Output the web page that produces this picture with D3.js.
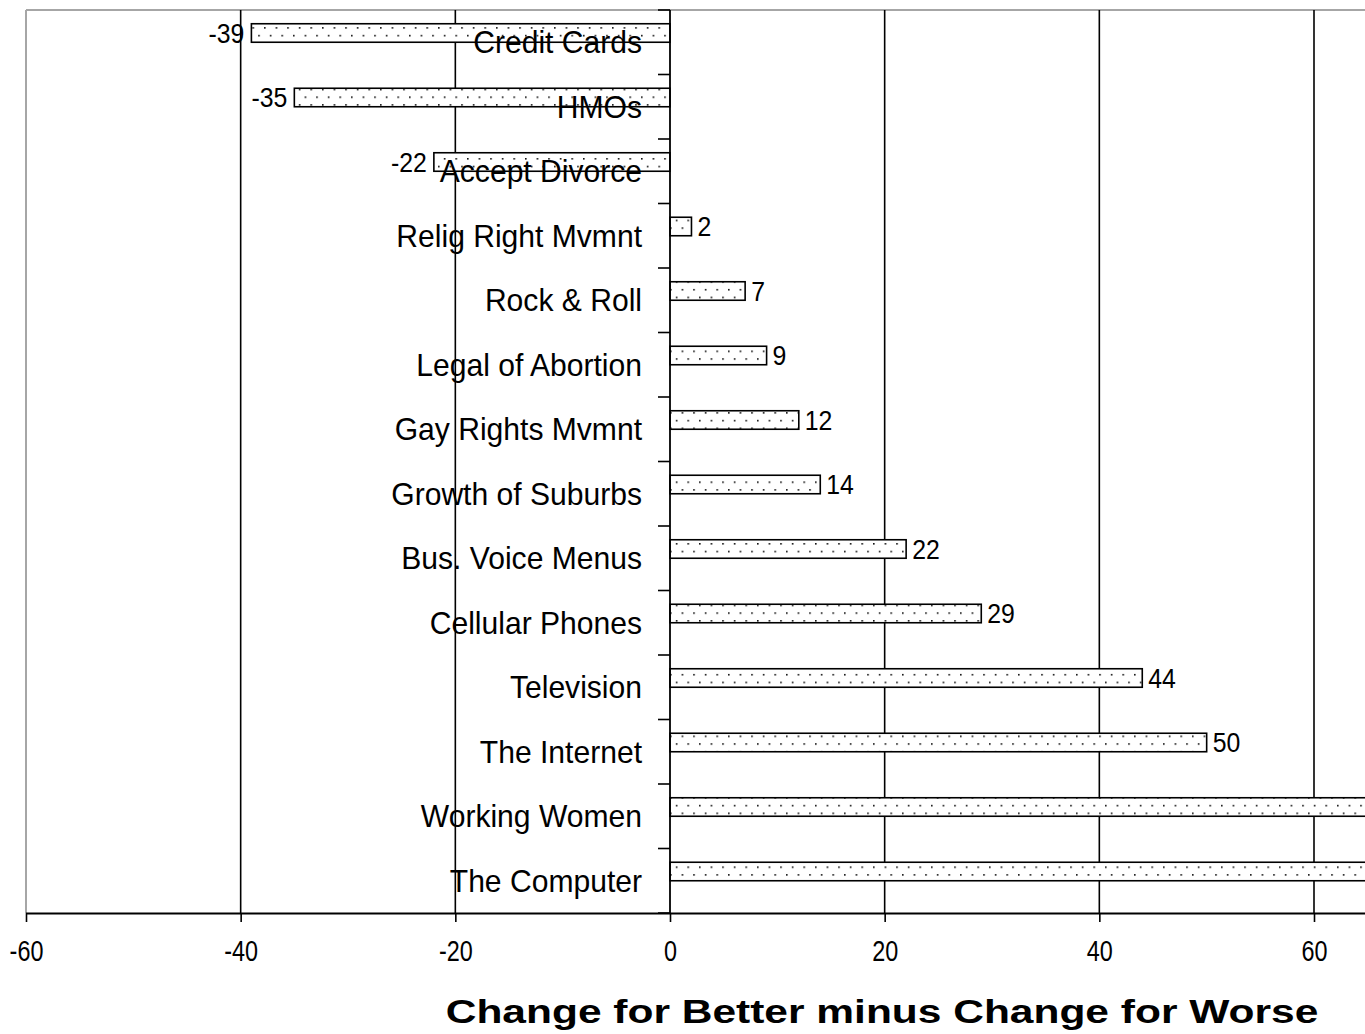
<!DOCTYPE html>
<html>
<head>
<meta charset="utf-8">
<script src="https://cdn.jsdelivr.net/npm/d3@7"></script>
<style>
  html, body { margin: 0; padding: 0; background: #fff; }
  svg { display: block; }
  text { font-family: "Liberation Sans", Arial, sans-serif; fill: #000; }
</style>
</head>
<body>
<svg id="chart" width="1365" height="1034"></svg>
<script>
const categories = ["Credit Cards", "HMOs", "Accept Divorce", "Relig Right Mvmnt", "Rock & Roll",
  "Legal of Abortion", "Gay Rights Mvmnt", "Growth of Suburbs", "Bus. Voice Menus",
  "Cellular Phones", "Television", "The Internet", "Working Women", "The Computer"];
const values = [-39, -35, -22, 2, 7, 9, 12, 14, 22, 29, 44, 50, 68, 73];
const xTicks = [-60, -40, -20, 0, 20, 40, 60];
const axisTitle = "Change for Better minus Change for Worse";

const W = 1365, H = 1034;
const plotTop = 10, plotBottom = 913;
const svg = d3.select("#chart");

const x = d3.scaleLinear().domain([-60, 60]).range([26, 1314]);
const y = d3.scaleBand().domain(categories).range([plotTop, plotBottom]).padding(0);
const barH = 18.5;

// pattern
const defs = svg.append("defs");
const pat = defs.append("pattern").attr("id", "dots").attr("patternUnits", "userSpaceOnUse")
  .attr("width", 11.6).attr("height", 15.4).attr("x", 3).attr("y", 4);
pat.append("rect").attr("width", 11.6).attr("height", 15.4).attr("fill", "#fff");
pat.append("rect").attr("x", 0).attr("y", 0).attr("width", 1.6).attr("height", 1.6).attr("fill", "#111");
pat.append("rect").attr("x", 5.8).attr("y", 7.7).attr("width", 1.6).attr("height", 1.6).attr("fill", "#111");

// frame (gray) top and left
svg.append("line").attr("x1", x(-60)).attr("x2", W).attr("y1", plotTop).attr("y2", plotTop)
  .attr("stroke", "#a6a6a6").attr("stroke-width", 2);
svg.append("line").attr("x1", x(-60)).attr("x2", x(-60)).attr("y1", plotTop).attr("y2", plotBottom)
  .attr("stroke", "#a6a6a6").attr("stroke-width", 2);

// gridlines
svg.append("g").selectAll("line").data(xTicks.filter(d => d !== -60 && d !== 0)).join("line")
  .attr("x1", d => x(d)).attr("x2", d => x(d)).attr("y1", plotTop).attr("y2", plotBottom)
  .attr("stroke", "#000").attr("stroke-width", 1.6);

// x axis
const xAxis = svg.append("g").attr("transform", `translate(0,${plotBottom})`)
  .call(d3.axisBottom(x).tickValues(xTicks).tickSize(9).tickSizeOuter(0).tickFormat(d => String(d)));
xAxis.select(".domain").attr("d", `M${x(-60)},0.5H${W}`).attr("stroke", "#000").attr("stroke-width", 1.8);
xAxis.selectAll(".tick line").attr("stroke", "#000").attr("stroke-width", 1.6);
xAxis.selectAll(".tick text").attr("font-size", 30).attr("y", 27).attr("dy", "0.71em")
  .attr("font-family", "'Liberation Sans', Arial, sans-serif").attr("fill", "#000")
  .attr("transform", "scale(0.78,1)");

// bars
svg.append("g").selectAll("rect").data(categories).join("rect")
  .attr("x", (d, i) => x(Math.min(0, values[i])))
  .attr("width", (d, i) => Math.abs(x(values[i]) - x(0)))
  .attr("y", d => y(d) + y.bandwidth() / 2 - barH)
  .attr("height", barH)
  .attr("fill", "url(#dots)").attr("stroke", "#000").attr("stroke-width", 1.6);

// zero axis with category ticks
svg.append("line").attr("x1", x(0)).attr("x2", x(0)).attr("y1", plotTop).attr("y2", plotBottom)
  .attr("stroke", "#000").attr("stroke-width", 1.8);
const bounds = categories.map(c => y(c)).concat([plotBottom]);
svg.append("g").selectAll("line").data(bounds).join("line")
  .attr("x1", x(0) - 12).attr("x2", x(0)).attr("y1", d => d).attr("y2", d => d)
  .attr("stroke", "#000").attr("stroke-width", 1.6);

// category labels
svg.append("g").selectAll("text").data(categories).join("text")
  .attr("text-anchor", "end").attr("font-size", 32)
  .attr("transform", d => `translate(${x(0) - 28},${y(d) + y.bandwidth() / 2 + 11}) scale(0.94,1)`)
  .text(d => d);

// value labels (those whose bar runs past the chart edge are clipped away, as in the original)
const labelData = categories.map((c, i) => ({ c, v: values[i] }))
  .filter(d => x(d.v) + 6 < W - 30);
svg.append("g").selectAll("text").data(labelData).join("text")
  .attr("font-size", 27)
  .attr("text-anchor", d => d.v < 0 ? "end" : "start")
  .attr("transform", d => {
    const xv = d.v < 0 ? x(d.v) - 7 : x(d.v) + 6;
    return `translate(${xv},${y(d.c) + y.bandwidth() / 2 - barH / 2 + 9.5}) scale(0.92,1)`;
  })
  .text(d => String(d.v));

// axis title
svg.append("text").attr("text-anchor", "middle").attr("font-size", 34).attr("font-weight", "bold")
  .attr("transform", `translate(882,1023) scale(1.25,1)`)
  .text(axisTitle);
</script>
</body>
</html>
